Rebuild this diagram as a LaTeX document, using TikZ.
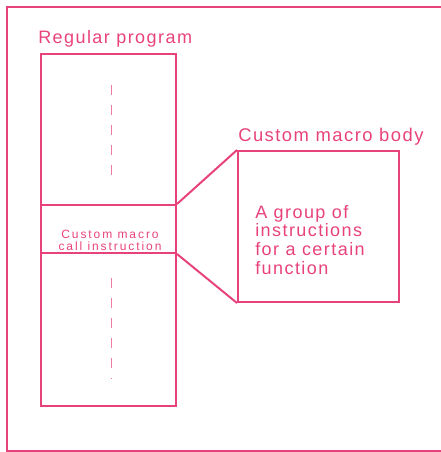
\documentclass[tikz,border=0pt]{standalone}
\usepackage{fontspec}
\setmainfont{Liberation Sans}
\newfontfamily\diagfont[LetterSpace=8]{Liberation Sans}
\newfontfamily\smallfont[LetterSpace=16]{Liberation Sans}
\usepackage{tikz}
\definecolor{macropink}{RGB}{232,66,124}

\begin{document}
\begin{tikzpicture}[x=0.75pt,y=0.75pt,yscale=-1,xscale=1,
    every node/.style={text=macropink,font=\diagfont},
    pinkline/.style={draw=macropink,line width=1.5pt},
    guide/.style={draw=macropink!70,line width=0.6pt,dash pattern=on 7.5pt off 7.5pt}]
    \useasboundingbox (0,0) rectangle (440,452);
    
    %Shape: Rectangle [id:frame] 
    \draw [pinkline]  (7,7) -- (446,7) -- (446,451) -- (7,451) -- cycle ;
    
    %Shape: Rectangle [id:prog] 
    \node [pinkline, rectangle, minimum width=101.25pt, minimum height=264pt, inner sep=0pt] (prog) at (108.5,230) {};
    %Shape: Rectangle [id:call] 
    \node [pinkline, rectangle, minimum width=101.25pt, minimum height=36pt, inner sep=0pt] (call) at (108.5,229) {};
    %Shape: Rectangle [id:body] 
    \node [pinkline, rectangle, minimum width=120.75pt, minimum height=113.25pt, inner sep=0pt] (body) at (318.5,226.5) {};
    
    %Straight Lines [id:upper] 
    \draw [pinkline]  (call.north east) -- (body.north west) ;
    %Straight Lines [id:lower] 
    \draw [pinkline]  (call.south east) -- (body.south west) ;
    
    %Straight Lines [id:dashtop] 
    \draw [guide]  (111,85) -- (111,182) ;
    %Straight Lines [id:dashbottom] 
    \draw [guide]  (111,278) -- (111,379) ;
    
    % Text Node
    \draw (38,44) node [anchor=base west][inner sep=0pt] (proglabel) {\fontsize{13.5}{14}\selectfont Regular program};
    % Text Node
    \draw (238,142) node [anchor=base west][inner sep=0pt] (bodylabel) {\fontsize{13.8}{14}\selectfont Custom macro body};
    % Text Node
    \draw (110,250.5) node [anchor=base][inner sep=0pt, align=center, font=\smallfont\fontsize{9}{8.7}\selectfont] (calltext) {Custom macro\\call instruction};
    % Text Node
    \draw (255,274) node [anchor=base west][inner sep=0pt, align=left, font=\diagfont\fontsize{13.5}{13.9}\selectfont] (bodytext) {A group of\\instructions\\for a certain\\function};
    \end{tikzpicture}
\end{document}
